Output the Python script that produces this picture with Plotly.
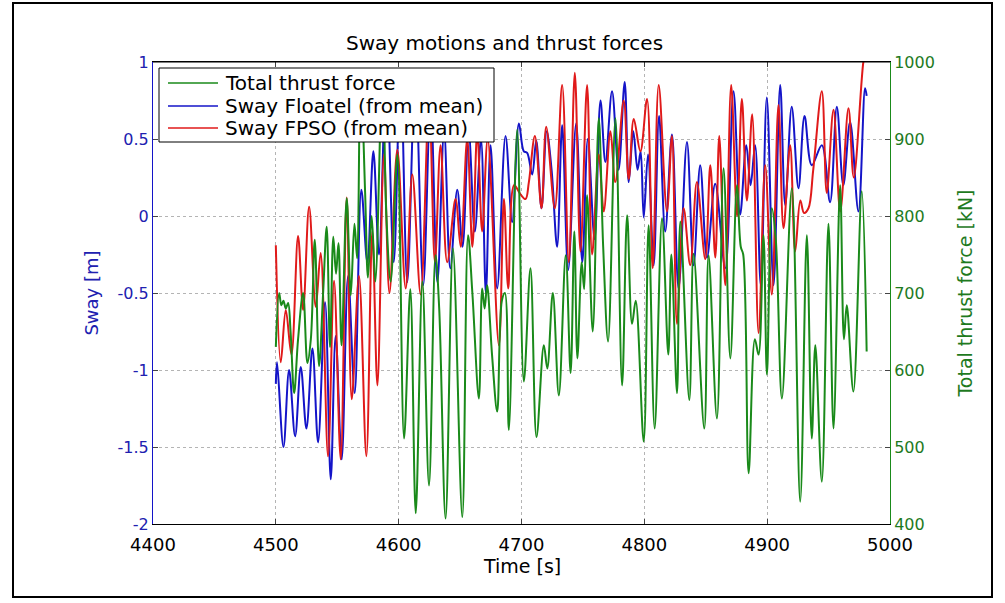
import plotly.graph_objects as go

# ---------------- data ----------------
t_thrust = [4500, 4502.7, 4504.5, 4506.2, 4508.1, 4510, 4512, 4514.9, 4518.1, 4522.2, 4525.7, 4528.5,
            4531.7, 4535.2, 4538.5, 4541.4, 4544.1, 4546.8, 4549, 4551, 4553.5, 4557.7, 4561, 4564,
            4566.2, 4569, 4572.7, 4575, 4578, 4581, 4586.8, 4590, 4593.5, 4599, 4604.4, 4609.5,
            4613.9, 4619.3, 4624.7, 4630, 4633, 4638.2, 4644.2, 4651.8, 4656.5, 4660, 4665.3, 4668,
            4670, 4672, 4676, 4680.2, 4684, 4686.5, 4689.7, 4696.5, 4701.9, 4707.3, 4712.2, 4718.2,
            4721, 4725.5, 4730.4, 4736, 4740, 4743, 4745.5, 4749, 4751, 4753.4, 4758, 4762.9,
            4766.5, 4770.5, 4776.5, 4781.9, 4786, 4790, 4793, 4799.5, 4803.5, 4808.4, 4814.4, 4819.5,
            4822, 4826.6, 4829.3, 4836.6, 4840.1, 4848.8, 4852.3, 4859.1, 4864.5, 4870, 4875.4, 4878.5,
            4880.5, 4884.9, 4890, 4893, 4897, 4899.8, 4903.8, 4907, 4912, 4920.1, 4926.9, 4932.3,
            4936.3, 4939.2, 4944.5, 4949.9, 4954, 4959.4, 4962.5, 4964.8, 4970.2, 4977, 4981]
thrust_kn = [630, 700, 684, 690, 680, 687, 650, 570, 640, 700, 609, 640,
             769, 605, 700, 786, 630, 773, 725, 765, 632, 823, 697, 790,
             745, 990, 830, 720, 800, 715, 990, 800, 715, 880, 511, 705,
             414, 715, 450, 749, 680, 407, 758, 409, 775, 700, 563, 706,
             680, 710, 620, 546, 690, 700, 522, 912, 585, 732, 513, 632,
             602, 700, 567, 749, 596, 780, 615, 740, 705, 827, 650, 927,
             760, 637, 927, 580, 801, 660, 690, 507, 788, 524, 797, 620,
             750, 570, 793, 561, 751, 524, 749, 537, 862, 615, 840, 760,
             750, 466, 640, 620, 775, 594, 810, 770, 563, 836, 429, 775,
             511, 632, 455, 790, 524, 840, 640, 684, 572, 832, 624]

t_floatel = [4500, 4501, 4506.2, 4510.8, 4515.7, 4520.3, 4524.9, 4529.8, 4534.4, 4540.1, 4544.7, 4548.7,
             4553.6, 4558.8, 4564.2, 4569.6, 4574.5, 4579.4, 4584, 4590, 4596, 4601.5, 4607, 4613.5,
             4620, 4626, 4631.5, 4637, 4642, 4647.7, 4652, 4657, 4662, 4667, 4671, 4674.8,
             4680.2, 4687, 4692.4, 4697.9, 4701.9, 4704.6, 4708.7, 4712, 4716.3, 4720.5, 4724.5, 4729,
             4733.1, 4738, 4744.5, 4749.5, 4754, 4759.5, 4764.3, 4768.3, 4773.7, 4779, 4784, 4787.3,
             4791, 4794.5, 4797, 4799.5, 4803, 4807.6, 4812, 4817, 4822.5, 4827.9, 4834.7, 4840.1,
             4845.5, 4851, 4857.7, 4865.9, 4872.6, 4878, 4883, 4886.5, 4890.2, 4894.8, 4899.7, 4905.2,
             4910.6, 4914.7, 4920, 4925.5, 4930.4, 4936.3, 4944.5, 4951.2, 4956.7, 4962, 4967.5, 4974.3,
             4979.7, 4981]
sway_floatel = [-1.09, -0.95, -1.50, -1.00, -1.43, -0.98, -1.38, -0.86, -1.47, -0.56, -1.71, -0.78,
                -1.58, -0.39, -1.15, 0.17, -0.30, 0.42, -0.25, 0.95, -0.30, 0.95, -0.43, 0.92,
                -0.45, 0.75, -0.43, 0.55, -0.34, 0.17, -0.20, 0.55, -0.10, 0.50, -0.50, 0.46,
                -0.47, 0.52, -0.04, 0.60, 0.42, 0.41, 0.27, 0.49, 0.05, 0.55, 0.30, -0.20,
                0.59, -0.35, 0.60, -0.30, 0.50, -0.15, 0.75, 0.35, 0.81, 0.30, 0.87, 0.22,
                0.55, 0.30, 0.42, -0.01, 0.40, -0.32, 0.65, -0.10, 0.53, -0.47, 0.48, -0.32,
                0.33, -0.27, 0.21, -0.34, 0.81, 0.01, 0.46, 0.20, 0.46, -0.45, 0.77, -0.45,
                0.85, 0.07, 0.71, 0.18, 0.65, 0.33, 0.46, 0.09, 0.71, 0.20, 0.61, 0.03,
                0.83, 0.78]

t_fpso = [4500, 4504, 4508.1, 4512.7, 4518.1, 4522.2, 4527.1, 4532.5, 4536.5, 4542.5, 4547.4, 4552.8,
          4557.7, 4561.8, 4567.7, 4573.7, 4578.5, 4582.7, 4588, 4592.5, 4598.9, 4605.7, 4611.1, 4617.9,
          4624.7, 4629.5, 4634.1, 4639.5, 4646.3, 4650.5, 4655.8, 4660, 4664, 4668, 4672.5, 4681.6,
          4685.7, 4689.2, 4694, 4699.2, 4703.3, 4706, 4710.9, 4716.3, 4720.1, 4727.1, 4733.1, 4738.5,
          4743.4, 4748, 4753.4, 4757.5, 4762.9, 4767, 4772.4, 4776.4, 4783.2, 4787.3, 4791.4, 4796.8,
          4802.2, 4806.8, 4811.7, 4818.4, 4822.5, 4826.6, 4832, 4837.4, 4842.8, 4849.6, 4853.7, 4857.8,
          4861, 4865.9, 4870.7, 4875.5, 4879.4, 4883.5, 4887.8, 4893, 4898.4, 4903.8, 4909.2, 4913.3,
          4918.7, 4922.8, 4927, 4930, 4933.6, 4937.5, 4944.5, 4948.5, 4954, 4959.5, 4966.2, 4970.5,
          4978.3, 4980]
sway_fpso = [-0.19, -0.95, -0.61, -0.90, -0.13, -0.61, 0.06, -0.59, -0.24, -1.56, -0.42, -1.58,
             0.12, -1.19, -0.39, -1.56, -0.10, -1.10, 0.40, -0.50, 0.43, -0.47, 0.27, -0.51,
             0.75, -0.30, 0.46, -0.30, 0.11, -0.20, 0.50, -0.20, 0.55, -0.10, 0.50, -0.84,
             0.11, -0.47, 0.20, 0.14, 0.11, 0.22, 0.52, 0.05, 0.58, 0.05, 0.85, -0.30,
             0.93, -0.23, 0.85, -0.25, 0.40, 0.03, 0.55, 0.22, 0.75, 0.24, 0.63, 0.42,
             0.76, -0.34, 0.85, 0.03, 0.52, -0.70, 0.05, -0.32, 0.22, -0.28, 0.33, -0.27,
             0.52, -0.45, 0.85, 0.00, 0.76, 0.10, 0.66, -0.76, 0.33, -0.51, 0.72, -0.08,
             0.46, -0.23, 0.10, 0.02, 0.05, 0.30, 0.81, 0.15, 0.69, 0.03, 0.70, 0.25,
             1.00, 1.06]

x_ticks = [4400, 4500, 4600, 4700, 4800, 4900, 5000]
sway_ticks = [-2, -1.5, -1, -0.5, 0, 0.5, 1]
sway_tick_text = ["-2", "-1.5", "-1", "-0.5", "0", "0.5", "1"]
thrust_ticks = [400, 500, 600, 700, 800, 900, 1000]

series_names = ["Total thrust force", "Sway Floatel (from mean)", "Sway FPSO (from mean)"]

# ---------------- styling ----------------
BLUE = "#1414c8"
RED = "#e01a1a"
GREEN = "#1a8a1a"
BLUE_TXT = "#2020b0"
GREEN_TXT = "#1e7a1e"
FONT = "DejaVu Sans, Liberation Sans, sans-serif"
COLORS = [GREEN, BLUE, RED]

fig = go.Figure()
fig.add_trace(go.Scatter(x=t_floatel, y=sway_floatel, mode="lines", name=series_names[1],
                         line=dict(color=BLUE, width=2, shape="spline", smoothing=1)))
fig.add_trace(go.Scatter(x=t_fpso, y=sway_fpso, mode="lines", name=series_names[2],
                         line=dict(color=RED, width=2, shape="spline", smoothing=1)))
fig.add_trace(go.Scatter(x=t_thrust, y=thrust_kn, mode="lines", name=series_names[0],
                         yaxis="y2", line=dict(color=GREEN, width=2, shape="spline", smoothing=1)))

L, R, T, B = 153, 115, 62, 79
W, H = 1005, 603
pw, ph = W - L - R, H - T - B


def px(x):
    return (x - L) / pw


def py(y):
    return (H - B - y) / ph


fig.update_layout(
    width=W, height=H,
    margin=dict(l=L, r=R, t=T, b=B, autoexpand=False),
    paper_bgcolor="white", plot_bgcolor="white",
    font=dict(family=FONT, size=17, color="black"),
    title=dict(text="Sway motions and thrust forces", x=px(523), xanchor="center",
               y=1 - 43 / H, yanchor="middle", font=dict(size=20, color="black")),
    showlegend=False,
    xaxis=dict(range=[4400, 5000], tickvals=x_ticks, ticks="inside", ticklen=5,
               showline=True, linecolor="black", linewidth=1, mirror="ticks",
               showgrid=True, gridcolor="#b4b4b4", griddash="dot", gridwidth=1,
               zeroline=False, tickfont=dict(size=18, color="black"), ticklabelstandoff=4),
    yaxis=dict(range=[-2, 1], tickvals=sway_ticks, ticktext=sway_tick_text, ticks="inside", ticklen=5,
               showline=True, linecolor=BLUE, linewidth=1,
               showgrid=True, gridcolor="#b4b4b4", griddash="dot", gridwidth=1,
               zeroline=False, tickfont=dict(size=16, color=BLUE_TXT),
               title=dict(text="Sway [m]", font=dict(size=18, color=BLUE_TXT), standoff=14)),
    yaxis2=dict(range=[400, 1000], tickvals=thrust_ticks, overlaying="y", side="right",
                ticks="inside", ticklen=5, showline=True, linecolor=GREEN, linewidth=1,
                showgrid=False, zeroline=False, tickfont=dict(size=16, color=GREEN_TXT),
                title=dict(text="Total thrust force [kN]", font=dict(size=19, color=GREEN_TXT),
                           standoff=24)),
)

# x-axis title placed where the reference shows it
fig.add_annotation(text="Time [s]", xref="paper", yref="paper", x=px(522), y=py(566),
                   xanchor="center", yanchor="middle", showarrow=False,
                   font=dict(family=FONT, size=19, color="black"))

# top border line of the plot box (black)
fig.add_shape(type="line", xref="paper", yref="paper", x0=0, x1=1, y0=1, y1=1,
              line=dict(color="black", width=1))
# outer frame around the whole picture
fig.add_shape(type="rect", xref="paper", yref="paper",
              x0=px(13), x1=px(992), y0=py(597), y1=py(3),
              line=dict(color="black", width=2), fillcolor="rgba(0,0,0,0)", layer="above")

# legend box (drawn over the traces, like the MATLAB legend)
fig.add_shape(type="rect", xref="paper", yref="paper",
              x0=px(159), x1=px(494), y0=py(142), y1=py(68),
              line=dict(color="black", width=1), fillcolor="white", layer="above")
row_y = [83, 106, 128]
for name, color, yy in zip(series_names, COLORS, row_y):
    fig.add_shape(type="line", xref="paper", yref="paper",
                  x0=px(168), x1=px(218), y0=py(yy), y1=py(yy),
                  line=dict(color=color, width=1.5), layer="above")
    fig.add_annotation(text=name, xref="paper", yref="paper", x=px(223), y=py(yy),
                       xanchor="left", yanchor="middle", showarrow=False,
                       font=dict(family=FONT, size=20, color="black"))

fig.write_html("out.html")
